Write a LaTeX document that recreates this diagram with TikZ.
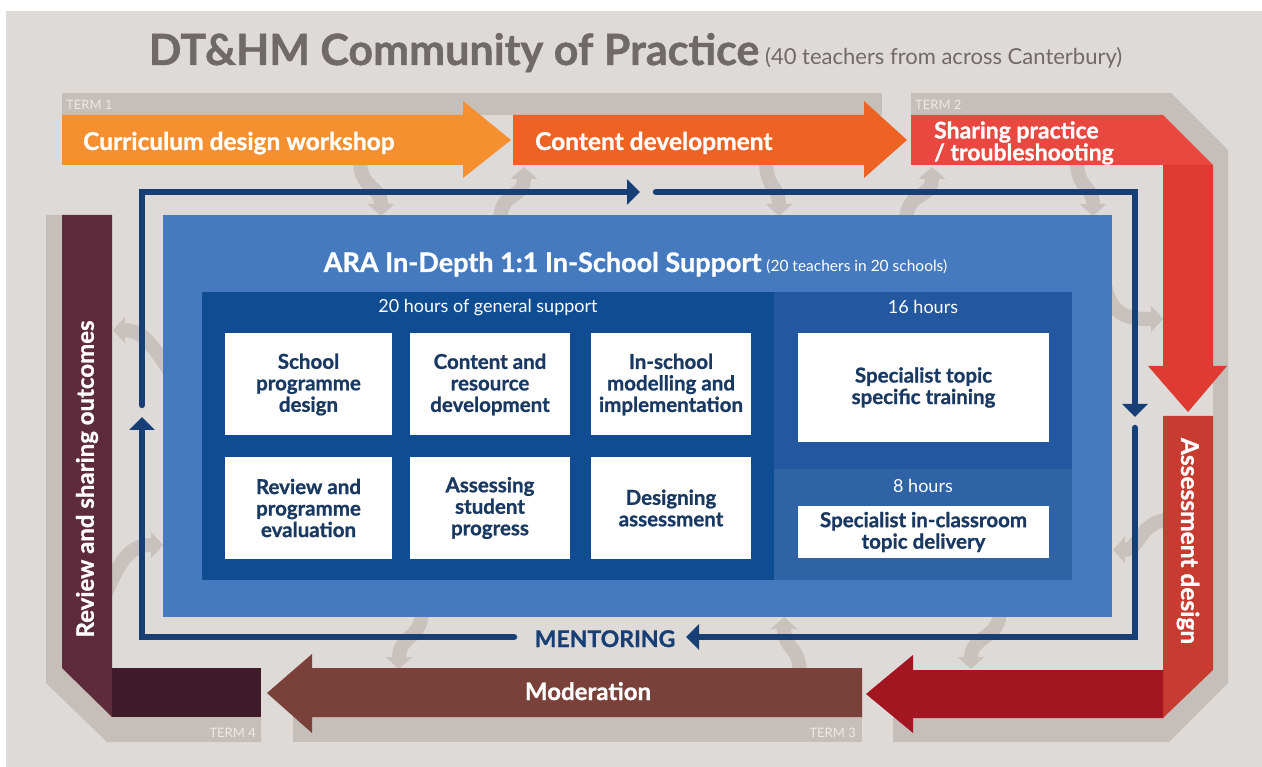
\documentclass[tikz,border=0pt]{standalone}
\usepackage{fontspec}
\setmainfont{Lato}[BoldFeatures={FakeBold=1}]
\usetikzlibrary{arrows.meta}

\definecolor{paper}{HTML}{DEDAD7}
\definecolor{track}{HTML}{C6BEB9}
\definecolor{swoopgray}{HTML}{C9C1BB}
\definecolor{titlegray}{HTML}{6F6A68}
\definecolor{termone}{HTML}{F68F2F}
\definecolor{termtwo}{HTML}{EE6324}
\definecolor{sharered}{HTML}{E8483F}
\definecolor{sharedark}{HTML}{E03B32}
\definecolor{assessred}{HTML}{C83B31}
\definecolor{deepred}{HTML}{A31521}
\definecolor{moderation}{HTML}{7A403A}
\definecolor{plum}{HTML}{5E2B3D}
\definecolor{darkplum}{HTML}{3F1A28}
\definecolor{midblue}{HTML}{457ABF}
\definecolor{panelblue}{HTML}{0F4C92}
\definecolor{sixteen}{HTML}{23579F}
\definecolor{eight}{HTML}{3063A6}
\definecolor{navy}{HTML}{173F75}
\definecolor{boxtext}{HTML}{1A3962}
\definecolor{termtext}{HTML}{EDE9E7}

\newcommand{\pxfont}[2]{\fontsize{#1}{#2}\selectfont}

\begin{document}
\begin{tikzpicture}[x=1pt,y=-1pt,
  swoop/.style={draw=swoopgray,line width=14pt,-{Triangle[length=12pt,width=26pt]}},
  mentorline/.style={draw=navy,line width=6.5pt,line cap=round,-{Triangle[length=13pt,width=25pt]}},
  stage/.style={text=white,font=\bfseries\pxfont{24.5}{26},anchor=base west,inner sep=0},
  termlabel/.style={text=termtext,font=\pxfont{13}{15},inner sep=0},
  task/.style={fill=white,text=boxtext,font=\bfseries\pxfont{20.5}{21.5},align=center,inner sep=0},
  hours/.style={text=white,font=\pxfont{18}{20},anchor=base,inner sep=0}]
  \useasboundingbox (0,0) rectangle (1262,767);
  \fill[white] (0,0) rectangle (1262,767);
  \fill[paper] (6,11) rectangle (1262,767);

  \node[anchor=base,text=titlegray,inner sep=0] (title) at (635.5,65)
    {{\bfseries\pxfont{43}{46}DT\&HM Community of Practice}\hspace{6pt}{\pxfont{22}{24}(40 teachers from across Canterbury)}};

  \fill[track] (62,93) rectangle (882,115);
  \fill[track] (911,93) -- (1171,93) -- (1228,150) -- (1228,683) -- (1169,742) -- (893,742) -- (893,718)
    -- (1163,718) -- (1213,670) -- (1213,165) -- (1163,115) -- (911,115) -- cycle;
  \fill[track] (293,717) rectangle (862,742);
  \fill[track] (46,215) -- (62,215) -- (62,668) -- (112,717) -- (261,717) -- (261,742) -- (107,742) -- (46,683) -- cycle;

  \node[termlabel,anchor=base west] (t1) at (66,110) {TERM 1};
  \node[termlabel,anchor=base west] (t2) at (915,110) {TERM 2};
  \node[termlabel,anchor=base east] (t3) at (856,737) {TERM 3};
  \node[termlabel,anchor=base east] (t4) at (256,737) {TERM 4};

  \draw[swoop] (360,160) .. controls (360,190) and (381,185) .. (381,216);
  \draw[swoop] (500,222) .. controls (500,190) and (524,200) .. (524,167);
  \draw[swoop] (766,160) .. controls (766,190) and (779,185) .. (779,216);
  \draw[swoop] (906,222) .. controls (906,190) and (932,200) .. (932,167);
  \draw[swoop] (1077,160) .. controls (1077,190) and (1093,185) .. (1093,216);
  \draw[swoop] (1104,280) .. controls (1110,318) and (1130,319) .. (1163,319);
  \draw[swoop] (1170,520) .. controls (1140,520) and (1140,550) .. (1113,550);
  \draw[swoop] (1000,610) .. controls (1000,640) and (971,635) .. (971,669);
  \draw[swoop] (800,675) .. controls (800,645) and (784,650) .. (784,617);
  \draw[swoop] (422,610) .. controls (422,640) and (399,635) .. (399,669);
  \draw[swoop] (105,595) .. controls (120,560) and (130,545) .. (163,545);
  \draw[swoop] (172,375) .. controls (150,340) and (140,330) .. (113,330);

  \fill[termone] (62,115) -- (463,115) -- (463,101) -- (511,140) -- (463,178) -- (463,165) -- (62,165) -- cycle;
  \fill[termtwo] (513,115) -- (864,115) -- (864,101) -- (907,140) -- (864,178) -- (864,165) -- (513,165) -- cycle;
  \fill[sharered] (911,115) -- (1163,115) -- (1213,165) -- (911,165) -- cycle;
  \fill[sharedark] (1163,165) -- (1213,165) -- (1213,366) -- (1227,366) -- (1188,412) -- (1148,366) -- (1163,366) -- cycle;
  \fill[assessred] (1163,416) -- (1213,416) -- (1213,670) -- (1163,718) -- cycle;
  \fill[deepred] (1163,670) -- (1163,718) -- (913,718) -- (913,733) -- (866,694) -- (913,655) -- (913,670) -- cycle;
  \fill[moderation] (862,668) -- (862,717) -- (312,717) -- (312,733) -- (267,693) -- (312,654) -- (312,668) -- cycle;
  \fill[plum] (62,215) -- (112,215) -- (112,717) -- (62,668) -- cycle;
  \fill[darkplum] (112,668) rectangle (261,717);

  \node[stage] (cdw) at (83,150) {Curriculum design workshop};
  \node[stage] (cdev) at (535,150) {Content development};
  \node[stage,font=\bfseries\pxfont{23}{22},align=left,anchor=west] (spt) at (934,143) {Sharing practice\\/ troubleshooting};
  \node[text=white,font=\bfseries\pxfont{24}{26},inner sep=0,anchor=base] (mod) at (588,700) {Moderation};
  \node[text=white,font=\bfseries\pxfont{24}{26},inner sep=0,rotate=90] (rso) at (87,479) {Review and sharing outcomes};
  \node[text=white,font=\bfseries\pxfont{24.5}{26},inner sep=0,rotate=-90] (asd) at (1188,541) {Assessment design};

  \fill[midblue] (163,215) rectangle (1112,617);
  \fill[panelblue] (202,292) rectangle (774,580);
  \fill[sixteen] (774,292) rectangle (1072,469);
  \fill[eight] (774,469) rectangle (1072,580);

  \node[anchor=base,text=white,inner sep=0] (ara) at (635.5,272)
    {{\bfseries\pxfont{27}{29}ARA In-Depth 1:1 In-School Support}\hspace{5pt}{\pxfont{15.5}{17}(20 teachers in 20 schools)}};
  \node[hours] (gen) at (488,313) {20 hours of general support};
  \node[hours] (h16) at (923,314) {16 hours};
  \node[hours] (h8) at (923,493) {8 hours};

  \foreach \cx/\cy/\w/\nm/\txt in {
      308.5/384.5/167/sched/{School\\programme\\design},
      490/384.5/160/cres/{Content and\\resource\\development},
      671/384.5/160/insch/{In-school\\modelling and\\implementation},
      308.5/508/167/revw/{Review and\\programme\\evaluation},
      490/508/160/asst/{Assessing\\student\\progress},
      671/508/160/desa/{Designing\\assessment}} {
    \node[task,minimum width=\w,minimum height=102] (\nm) at (\cx,\cy) {\txt};
  }
  \node[task,minimum width=251,minimum height=109] (spec) at (923.5,387.5) {Specialist topic\\specific training};
  \node[task,minimum width=251,minimum height=52] (spcl) at (923.5,532) {Specialist in-classroom\\topic delivery};

  \coordinate (nw) at (142,192);
  \coordinate (ne) at (1135,192);
  \coordinate (se) at (1135,637);
  \coordinate (sw) at (142,637);
  \node[text=navy,font=\bfseries\pxfont{23}{25},inner sep=0,anchor=base] (mentor) at (605,647) {MENTORING};
  \draw[mentorline] (142,405) -- (nw) -- (640,192);
  \draw[mentorline] (656,192) -- (ne) -- (1135,417);
  \draw[mentorline] (1135,428) -- (se) -- (686,637);
  \draw[mentorline] (514,637) -- (sw) -- (142,417);
\end{tikzpicture}
\end{document}
